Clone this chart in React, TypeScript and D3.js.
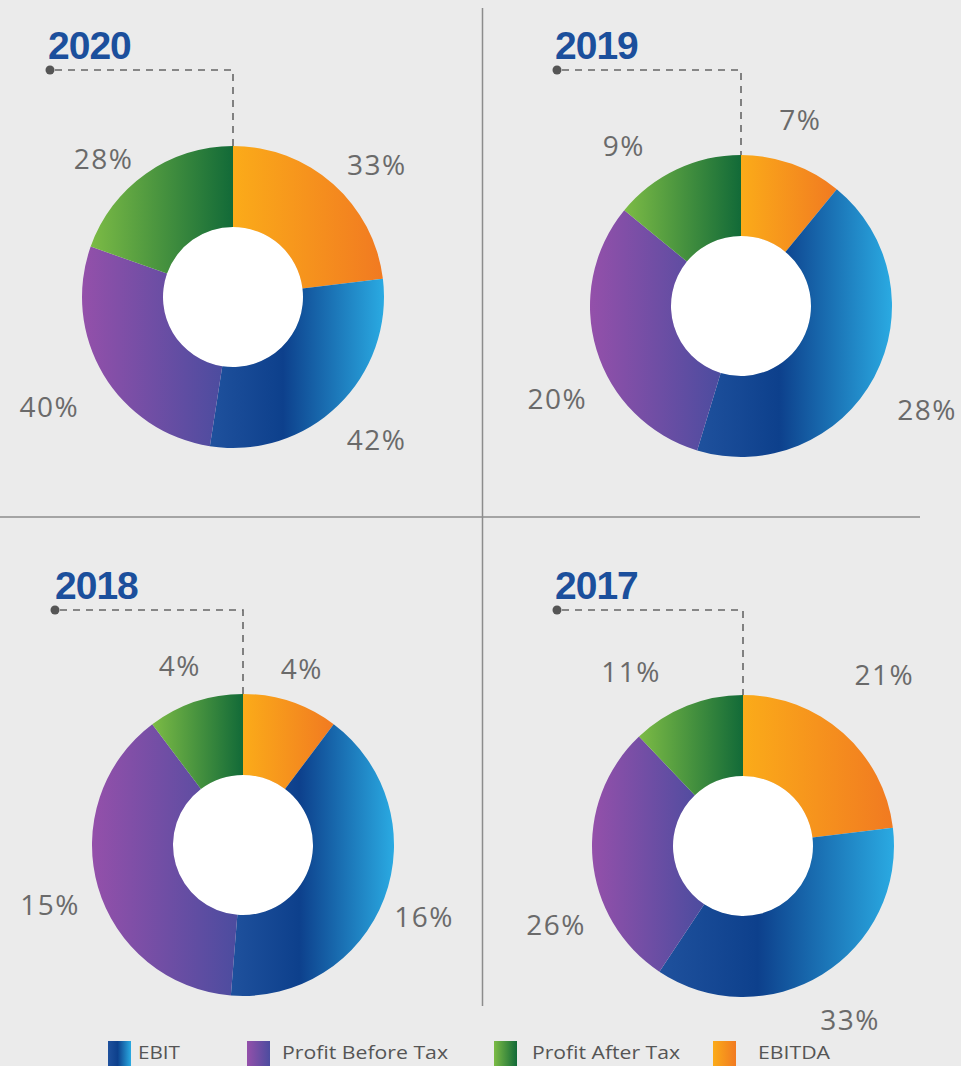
import React from 'react';
import * as d3 from 'd3';

// ---- Data ----
const CATEGORIES = ['EBITDA', 'EBIT', 'Profit Before Tax', 'Profit After Tax'];
const YEARS = ['2020', '2019', '2018', '2017'];
const VALUES_2020 = [33, 42, 40, 28];
const VALUES_2019 = [7, 28, 20, 9];
const VALUES_2018 = [4, 16, 15, 4];
const VALUES_2017 = [21, 33, 26, 11];
const LEGEND_ORDER = ['EBIT', 'Profit Before Tax', 'Profit After Tax', 'EBITDA'];

const SERIES = [VALUES_2020, VALUES_2019, VALUES_2018, VALUES_2017];

// ---- Layout / style ----
const W = 961;
const H = 1066;
const OUTER = 151;
const INNER = 70;
const PANELS = [
  { cx: 233, cy: 297, tx: 48, ty: 59, dx: 50, dy: 70 },
  { cx: 741, cy: 306, tx: 555, ty: 59, dx: 557, dy: 70 },
  { cx: 243, cy: 845, tx: 55, ty: 599, dx: 55, dy: 610 },
  { cx: 743, cy: 846, tx: 555, ty: 599, dx: 557, dy: 610 },
];
// [angle nudge (deg), label radius]
const LABEL_NUDGE = [
  [[6, 195], [-1, 203], [0, 214], [-8, 189]],
  [[-2, 195], [1, 213], [-10, 206], [-11, 198]],
  [[0, 186], [1, 195], [-1, 202], [-1, 190]],
  [[-2, 222], [0, 204], [-18, 203], [-11, 207]],
];
const GRADIENTS: Record<string, [number, string][]> = {
  EBITDA: [[0, '#fbab19'], [1, '#f17a21']],
  EBIT: [[0, '#1f519d'], [0.42, '#0d408c'], [1, '#2aaae2']],
  'Profit Before Tax': [[0, '#9450aa'], [1, '#4c4c9f']],
  'Profit After Tax': [[0, '#7cbb45'], [1, '#126a38']],
};
const gradId = (c: string) => 'g-' + c.replace(/\s+/g, '-');

const LEGEND_POS = [
  { sx: 108, tx: 138, tw: 42 },
  { sx: 247, tx: 282, tw: 166 },
  { sx: 494, tx: 532, tw: 148 },
  { sx: 713, tx: 758, tw: 72 },
];

export default function App() {
  const pie = d3
    .pie<number>()
    .sort(null)
    .value((d) => d);
  const arc = d3.arc<d3.PieArcDatum<number>>().innerRadius(INNER).outerRadius(OUTER);

  return (
    <svg
      width={W}
      height={H}
      style={{ position: 'absolute', left: 0, top: 0, display: 'block' }}
    >
      <defs>
        {CATEGORIES.map((c) => (
          <linearGradient key={c} id={gradId(c)} x1="0" y1="0" x2="1" y2="0">
            {GRADIENTS[c].map(([o, col], i) => (
              <stop key={i} offset={o} stopColor={col} />
            ))}
          </linearGradient>
        ))}
      </defs>
      <rect x={0} y={0} width={W} height={H} fill="#ebebeb" />
      {/* dividers */}
      <line x1={482.5} y1={8} x2={482.5} y2={1006} stroke="#8c8c8c" strokeWidth={1.5} />
      <line x1={0} y1={517} x2={920} y2={517} stroke="#8c8c8c" strokeWidth={1.5} />

      {SERIES.map((vals, pi) => {
        const p = PANELS[pi];
        const arcs = pie(vals);
        return (
          <g key={pi}>
            <text
              x={p.tx}
              y={p.ty}
              fontFamily="'Liberation Sans', Arial, sans-serif"
              fontWeight="bold"
              fontSize={39}
              letterSpacing={-1}
              fill="#1b4f9c"
            >
              {YEARS[pi]}
            </text>
            <circle cx={p.dx} cy={p.dy} r={4.5} fill="#555" />
            <path
              d={`M${p.dx + 5},${p.dy}H${p.cx}V${p.cy - OUTER}`}
              fill="none"
              stroke="#666"
              strokeWidth={1.6}
              strokeDasharray="7,6"
            />
            <g transform={`translate(${p.cx},${p.cy})`}>
              <circle r={INNER} fill="#ffffff" />
              {arcs.map((a, i) => (
                <path key={i} d={arc(a) || ''} fill={`url(#${gradId(CATEGORIES[i])})`} />
              ))}
              {arcs.map((a, i) => {
                const [nudge, r] = LABEL_NUDGE[pi][i];
                const ang = (a.startAngle + a.endAngle) / 2 + (nudge * Math.PI) / 180;
                const x = Math.sin(ang) * r;
                const y = -Math.cos(ang) * r;
                return (
                  <text
                    key={'l' + i}
                    x={x}
                    y={y + 10}
                    textAnchor="middle"
                    fontFamily="'Open Sans', sans-serif"
                    fontSize={28}
                    letterSpacing={1.5}
                    fill="#6a6a6a"
                  >
                    {a.data + '%'}
                  </text>
                );
              })}
            </g>
          </g>
        );
      })}

      {/* legend */}
      {LEGEND_ORDER.map((c, i) => {
        const lp = LEGEND_POS[i];
        return (
          <g key={c}>
            <rect x={lp.sx} y={1041} width={23} height={25} fill={`url(#${gradId(c)})`} />
            <text
              x={lp.tx}
              y={1059}
              fontFamily="'Open Sans', sans-serif"
              fontSize={19}
              fill="#555"
              textLength={lp.tw}
              lengthAdjust="spacingAndGlyphs"
            >
              {c}
            </text>
          </g>
        );
      })}
    </svg>
  );
}
